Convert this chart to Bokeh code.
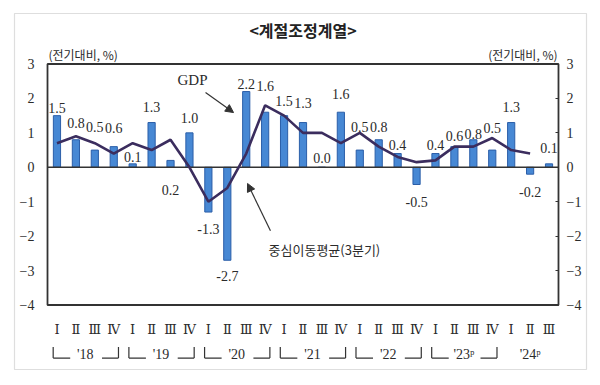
from bokeh.plotting import figure
from bokeh.models import Range1d, LinearAxis, FixedTicker, Arrow, NormalHead, ColumnDataSource
from bokeh.core.properties import value
from bokeh.embed import file_html
from bokeh.resources import INLINE

# ---------------- data ----------------
quarter_labels = ["Ⅰ", "Ⅱ", "Ⅲ", "Ⅳ", "Ⅰ", "Ⅱ", "Ⅲ", "Ⅳ", "Ⅰ", "Ⅱ", "Ⅲ", "Ⅳ",
                  "Ⅰ", "Ⅱ", "Ⅲ", "Ⅳ", "Ⅰ", "Ⅱ", "Ⅲ", "Ⅳ", "Ⅰ", "Ⅱ", "Ⅲ", "Ⅳ",
                  "Ⅰ", "Ⅱ", "Ⅲ"]
year_labels = ["'18", "'19", "'20", "'21", "'22", "'23ᵖ", "'24ᵖ"]
quarters_per_year = [4, 4, 4, 4, 4, 4, 3]
gdp_growth = [1.5, 0.8, 0.5, 0.6, 0.1, 1.3, 0.2, 1.0, -1.3, -2.7, 2.2, 1.6, 1.5, 1.3,
              0.0, 1.6, 0.5, 0.8, 0.4, -0.5, 0.4, 0.6, 0.8, 0.5, 1.3, -0.2, 0.1]
moving_avg = [0.7, 0.9, 0.7, 0.4, 0.7, 0.5, 0.8, 0.0, -1.0, -0.6, 0.4, 1.8, 1.5, 1.0,
              1.0, 0.7, 1.0, 0.6, 0.3, 0.15, 0.2, 0.6, 0.6, 0.85, 0.5, 0.4]
y_ticks = [-4, -3, -2, -1, 0, 1, 2, 3]
title_text = "<계절조정계열>"
unit_text = "(전기대비, %)"
gdp_note = "GDP"
ma_note = "중심이동평균(3분기)"

# label placement (style): vertical offset of each value label from its bar end
label_dy = [0.21, 0.5, 0.68, 0.55, 0.21, 0.44, -0.85, 0.44, -0.48, -0.45, 0.23, 0.77,
            0.44, 0.58, 0.26, 0.54, 0.66, 0.36, 0.26, -0.5, 0.26, 0.32, 0.18, 0.63,
            0.44, -0.53, 0.45]

# ---------------- layout constants ----------------
Y_MIN, Y_MAX = y_ticks[0], y_ticks[-1]
n = len(gdp_growth)
xs = list(range(n))
X_LO, X_HI = -0.5, n - 0.5

SERIF = value("Liberation Serif")
KR = value("Noto Sans CJK KR")
TXT = "#2b2b2b"

# the frame is the light outer border; the chart box is drawn inside it
p = figure(width=598, height=377, output_backend="svg", toolbar_location=None,
           x_range=Range1d(-2.244, 27.98), y_range=Range1d(-5.873, 4.467),
           x_axis_type=None, y_axis_type=None,
           min_border_left=14, min_border_right=12, min_border_top=13, min_border_bottom=8)
p.outline_line_color = "#dedede"
p.outline_line_width = 1.2
p.background_fill_color = "white"
p.border_fill_color = "white"

# axes, pinned to the chart box edges
left = LinearAxis(ticker=FixedTicker(ticks=y_ticks), fixed_location=X_LO)
right = LinearAxis(ticker=FixedTicker(ticks=y_ticks), fixed_location=X_HI)
for ax, standoff, tin in ((left, 13, 0), (right, 8, 3)):
    ax.axis_line_color = None
    ax.major_tick_out = 0
    ax.major_tick_in = tin
    ax.major_tick_line_color = "#333333"
    ax.minor_tick_line_color = None
    ax.major_label_standoff = standoff
    ax.major_label_text_font = "Liberation Serif"
    ax.major_label_text_font_size = "14px"
    ax.major_label_text_color = TXT
p.add_layout(left, "left")
p.add_layout(right, "right")

# bars
src = ColumnDataSource(dict(x=xs, top=gdp_growth,
                            ly=[v + d for v, d in zip(gdp_growth, label_dy)],
                            txt=[f"{v:.1f}" for v in gdp_growth]))
p.vbar(x="x", top="top", bottom=0, width=0.38, source=src,
       fill_color="#4788d4", line_color="#2b5ea8", line_width=1)

# zero line and plot box
p.segment(x0=[X_LO], y0=[0], x1=[X_HI], y1=[0], line_color="#333333", line_width=1.5)
p.quad(left=[X_LO], right=[X_HI], bottom=[Y_MIN], top=[Y_MAX], fill_color=None,
       line_color="#333333", line_width=1.8)

# moving average line
p.line(x=xs[:len(moving_avg)], y=moving_avg, line_color="#3b2d5e", line_width=2.6)

# value labels
p.text(x="x", y="ly", text="txt", source=src, text_align="center", text_baseline="middle",
       text_font=SERIF, text_font_size="14px", text_color=TXT)

# title and unit labels
p.text(x=[(X_LO + X_HI) / 2], y=[4.0], text=[title_text], text_align="center",
       text_baseline="middle", text_font=KR, text_font_size="16px",
       text_font_style="bold", text_color="#222222")
p.text(x=[X_LO + 0.05], y=[3.03], text=[unit_text], text_align="left", text_baseline="bottom",
       text_font=KR, text_font_size="12px", text_color=TXT)
p.text(x=[X_HI - 0.05], y=[3.03], text=[unit_text], text_align="right", text_baseline="bottom",
       text_font=KR, text_font_size="12px", text_color=TXT)

# quarter labels
p.text(x=xs, y=[-4.71] * n, text=quarter_labels, text_align="center", text_baseline="middle",
       text_font=value("DejaVu Serif"), text_font_size="13px", text_color=TXT)

# year labels with brackets
start = 0
bx0, by0, bx1, by1 = [], [], [], []
yx, ytxt = [], []
for lab, cnt in zip(year_labels, quarters_per_year):
    s, e = start, start + cnt - 1
    if cnt == 4:
        yx.append((s + e) / 2)
        lx, rx = s - 0.2, e + 0.25
        bx0 += [lx, lx]; by0 += [-5.22, -5.54]; bx1 += [lx, s + 0.7]; by1 += [-5.54, -5.54]
        bx0 += [e - 0.62, rx]; by0 += [-5.54, -5.54]; bx1 += [rx, rx]; by1 += [-5.54, -5.22]
    else:
        yx.append(s + 1)
    ytxt.append(lab)
    start += cnt
p.segment(x0=bx0, y0=by0, x1=bx1, y1=by1, line_color="#333333", line_width=1.2)
p.text(x=yx, y=[-5.43] * len(yx), text=ytxt, text_align="center", text_baseline="middle",
       text_font=SERIF, text_font_size="14px", text_color=TXT)

# annotations
p.text(x=[7.16], y=[2.55], text=[gdp_note], text_align="center", text_baseline="middle",
       text_font=SERIF, text_font_size="15px", text_color=TXT)
p.add_layout(Arrow(x_start=7.85, y_start=2.17, x_end=9.33, y_end=1.59,
                   line_color="#333333", line_width=1.2,
                   end=NormalHead(size=8, fill_color="#333333", line_color="#333333")))
p.text(x=[11.18], y=[-2.40], text=[ma_note], text_align="left", text_baseline="middle",
       text_font=KR, text_font_size="13px", text_color=TXT)
p.add_layout(Arrow(x_start=11.28, y_start=-1.84, x_end=10.07, y_end=-0.47,
                   line_color="#333333", line_width=1.2,
                   end=NormalHead(size=8, fill_color="#333333", line_color="#333333")))

open("out.html", "w").write(file_html(p, INLINE))
